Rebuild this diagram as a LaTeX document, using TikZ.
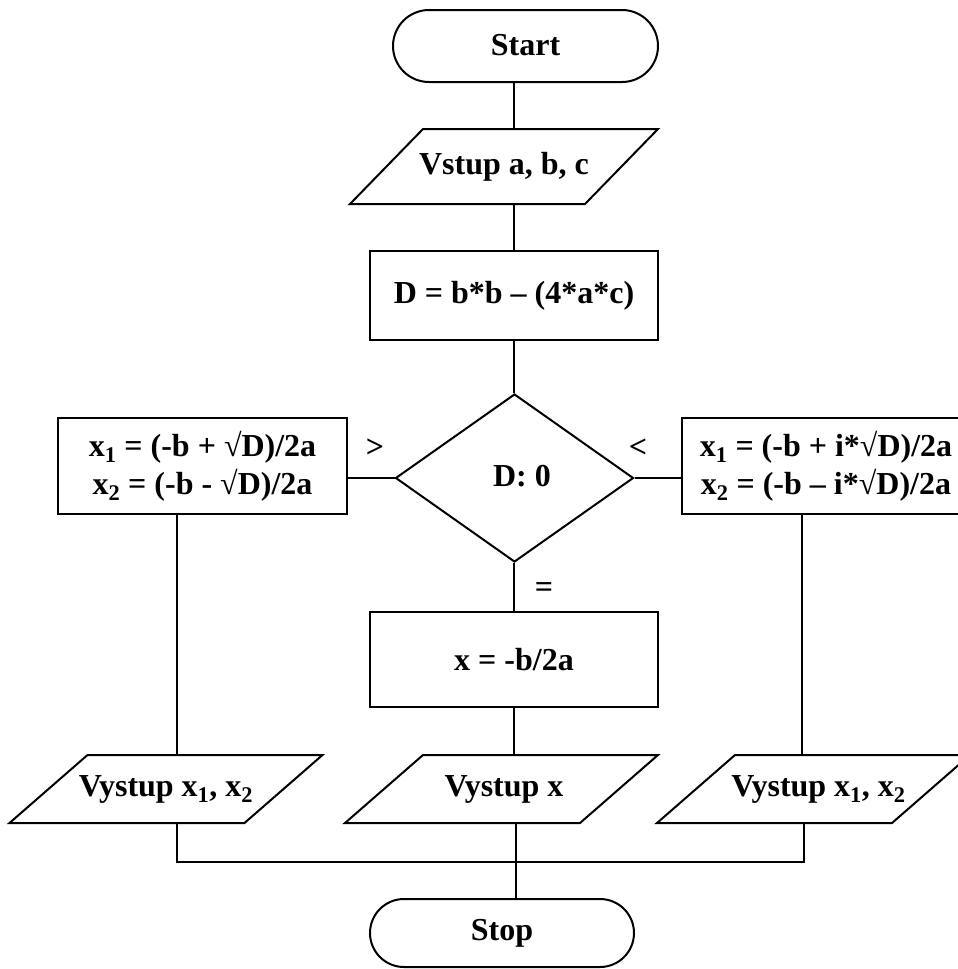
\documentclass[tikz,border=0pt]{standalone}
\usepackage{fontspec}
\setmainfont{Liberation Serif}
\usetikzlibrary{shapes.geometric}

% input/output parallelogram: name, centre x, centre y, half height, slant, text
\newcommand{\ioshape}[6]{%
  \node[iotext, minimum height=2*#4] (#1) at (#2,#3) {#6};
  \draw[outline] (#2-117.5+#5,#3-#4) -- (#2+117.5+#5,#3-#4)
    -- (#2+117.5-#5,#3+#4) -- (#2-117.5-#5,#3+#4) -- cycle;
}

\begin{document}
\begin{tikzpicture}[x=1pt,y=-1pt,
  every node/.style={font=\bfseries\fontsize{32}{38}\selectfont, inner sep=0pt},
  outline/.style={line width=2pt, line join=miter},
  conn/.style={line width=2pt},
  term/.style={draw, outline, rounded corners=#1},
  procbox/.style={draw, outline, minimum width=288, align=center},
  iotext/.style={minimum width=200},
  decision/.style={draw, outline, diamond, aspect=1.417, minimum width=238, minimum height=168},
  mark/.style={}
]
\useasboundingbox (0,0) rectangle (958,969);

% vertical axes of the branches
\coordinate (sp) at (514,0);
\coordinate (lx) at (177,0);
\coordinate (rx) at (802,0);
\coordinate (rxb) at (804,0);
\coordinate (mx) at (516,0);

% terminals
\node[term=36, minimum width=265, minimum height=72] (start) at (525.5,46) {\raisebox{3pt}{Start}};
\node[term=34, minimum width=264, minimum height=68] (stop) at (502,933) {Stop};

% input
\ioshape{vin}{504}{166.5}{37.5}{36.5}{Vstup a, b, c}

% processing
\node[procbox, minimum height=89] (dbox) at (514,295.5) {\raisebox{-2pt}{D = b*b -- (4*a*c)}};
\node[decision] (dia) at (514.5,478) {\hspace*{15pt}\raisebox{5pt}{D: 0}};
\node[procbox, minimum width=289, minimum height=96] (lbox) at (202.5,466)
  {x\textsubscript{1} = (-b + √D)/2a\\x\textsubscript{2} = (-b - √D)/2a};
\node[procbox, minimum width=289, minimum height=96] (rbox) at (826,466)
  {x\textsubscript{1} = (-b + i*√D)/2a\\x\textsubscript{2} = (-b -- i*√D)/2a};
\node[procbox, minimum height=95] (mbox) at (514,659.5) {x = -b/2a};

% outputs
\ioshape{out1}{166}{789}{34}{39}{Vystup x\textsubscript{1}, x\textsubscript{2}}
\ioshape{out2}{501.5}{789}{34}{39}{\hspace*{5pt}Vystup x}
\ioshape{out3}{813.5}{789}{34}{39}{\hspace*{10pt}Vystup x\textsubscript{1}, x\textsubscript{2}}

% branch labels
\node (gt) at (375,448) {>};
\node (lt) at (638,448) {<};
\node (eq) at (544,590) {=};

% connectors
\draw[conn] (start.south -| sp) -- (vin.north -| sp);
\draw[conn] (vin.south -| sp) -- (dbox.north -| sp);
\draw[conn] (dbox.south -| sp) -- (dia.north -| sp);
\draw[conn] (dia.west) -- (lbox.east |- dia.west);
\draw[conn] (dia.east) -- (rbox.west |- dia.east);
\draw[conn] (dia.south -| sp) -- (mbox.north -| sp);
\draw[conn] (mbox.south -| sp) -- (out2.north -| sp);
\draw[conn] (lbox.south -| lx) -- (out1.north -| lx);
\draw[conn] (rbox.south -| rx) -- (out3.north -| rx);
\coordinate (join) at (516,862);
\draw[conn] (out1.south -| lx) |- (join) -| (out3.south -| rxb);
\draw[conn] (out2.south -| mx) -- (stop.north -| mx);
\end{tikzpicture}
\end{document}
